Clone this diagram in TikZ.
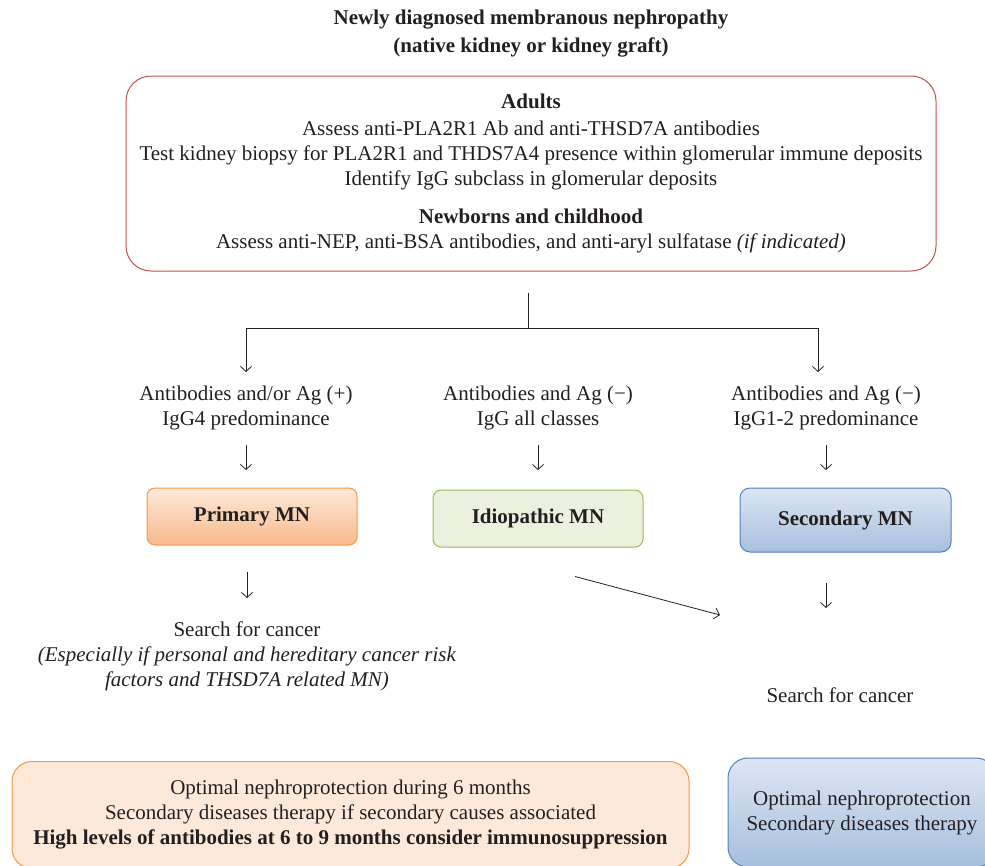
\documentclass[tikz,border=0pt]{standalone}
\usepackage{fontspec}
\setmainfont{Liberation Serif}
\usetikzlibrary{arrows.meta,positioning}

\definecolor{ink}{RGB}{35,31,32}
\definecolor{redline}{RGB}{192,80,77}
\definecolor{orangeline}{RGB}{247,150,70}
\definecolor{orangetop}{RGB}{253,234,218}
\definecolor{orangebot}{RGB}{248,185,140}
\definecolor{orangefill}{RGB}{253,233,217}
\definecolor{greenline}{RGB}{155,187,89}
\definecolor{greenfill}{RGB}{235,241,222}
\definecolor{blueline}{RGB}{79,129,189}
\definecolor{bluetop}{RGB}{220,230,242}
\definecolor{bluebot}{RGB}{167,191,222}

\newcommand{\diagfont}{\fontsize{21}{25}\selectfont}

\begin{document}
\begin{tikzpicture}[x=1pt,y=-1pt]
  \tikzstyle{txt}=[align=center, text=ink, font=\diagfont, inner sep=0pt]
  \tikzstyle{box}=[txt, draw, rounded corners=8pt, line width=1pt]
  \tikzstyle{mnbox}=[box, font=\diagfont\bfseries,
    minimum width=210pt, minimum height=57pt]
  \tikzstyle{arr}=[draw=ink, line width=0.8pt,
    -{Straight Barb[length=5pt,width=11pt]}]

  \useasboundingbox (0,0) rectangle (985,865);
  \clip (0,0) rectangle (985,865);

  % heading and tests
  \node[txt, font=\diagfont\bfseries] (title) at (531,33.5)
    {Newly diagnosed membranous nephropathy\\[3pt](native kidney or kidney graft)};
  \node[box, draw=redline, rounded corners=25pt,
    minimum width=810pt, minimum height=195pt] (tests) at (531,173.5)
    {\textbf{Adults}\\[2pt]
     Assess anti-PLA2R1 Ab and anti-THSD7A antibodies\\
     Test kidney biopsy for PLA2R1 and THDS7A4 presence within glomerular immune deposits\\
     Identify IgG subclass in glomerular deposits\\[13pt]
     \textbf{Newborns and childhood}\\
     Assess anti-NEP, anti-BSA antibodies, and anti-aryl sulfatase \textit{(if indicated)}};

  % findings
  \node[txt] (pos) at (246,408) {Antibodies and/or Ag (+)\\IgG4 predominance};
  \node[txt] (idio) at (538,408) {Antibodies and Ag (−)\\IgG all classes};
  \node[txt] (neg) at (826,408) {Antibodies and Ag (−)\\IgG1-2 predominance};

  % diagnosis
  \node[mnbox, draw=orangeline, top color=orangetop, bottom color=orangebot]
    (primary) at (252,516.5) {Primary MN};
  \node[mnbox, draw=greenline, fill=greenfill]
    (idiopathic) at (538,518.5) {Idiopathic MN};
  \node[mnbox, draw=blueline, top color=bluetop, bottom color=bluebot,
    minimum width=211pt, minimum height=64pt, rounded corners=10pt]
    (secondary) at (845.5,520) {Secondary MN};

  % cancer search
  \node[txt] (sleft) at (247,656.5)
    {Search for cancer\\
     \textit{(Especially if personal and hereditary cancer risk}\\
     \textit{factors and THSD7A related MN)}};
  \node[txt] (sright) at (840,695.5) {Search for cancer};

  % management
  \node[box, draw=orangeline, fill=orangefill, rounded corners=20pt,
    minimum width=677pt, minimum height=107pt] (protleft) at (350.5,815)
    {Optimal nephroprotection during 6 months\\
     Secondary diseases therapy if secondary causes associated\\
     \textbf{High levels of antibodies at 6 to 9 months consider immunosuppression}};
  \node[box, draw=blueline, top color=bluetop, bottom color=bluebot,
    rounded corners=20pt, minimum width=268pt, minimum height=109pt]
    (protright) at (862,812.5)
    {Optimal nephroprotection\\Secondary diseases therapy};

  % connectors
  \coordinate (forkTop) at (528,293);
  \coordinate (forkL) at (246,328);
  \coordinate (forkR) at (818,328);
  \coordinate (diagEnd) at (720,615);
  \draw[draw=ink, line width=0.8pt] (forkTop) -- (forkTop |- forkL);
  \draw[arr] (forkR) -- (forkL) -- ++(0,44);
  \draw[arr] (forkR) -- ++(0,44);

  \draw[arr, shorten <=37pt, shorten >=46.5pt] (pos.center) -- (pos.center |- primary.center);
  \draw[arr, shorten <=37pt, shorten >=48.5pt] (idio.center) -- (idio.center |- idiopathic.center);
  \draw[arr, shorten <=37pt, shorten >=50pt] (neg.center) -- (neg.center |- secondary.center);

  \draw[arr, shorten <=55.5pt, shorten >=58.5pt] (sleft.center |- primary.center) -- (sleft.center);
  \draw[arr, shorten <=63pt, shorten >=87.5pt] (neg.center |- secondary.center) -- (neg.center |- sright.center);
  \draw[arr] ([shift={(37,29)}]idiopathic.south) -- (diagEnd);

\end{tikzpicture}
\end{document}
